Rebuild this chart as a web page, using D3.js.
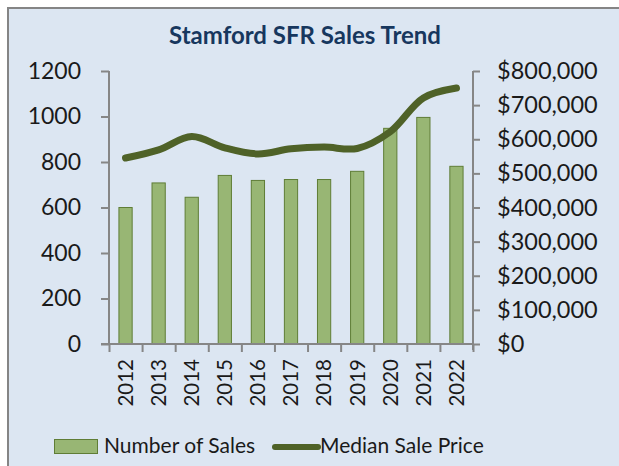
<!DOCTYPE html>
<html>
<head>
<meta charset="utf-8">
<script src="https://cdn.jsdelivr.net/npm/d3@7"></script>
<style>
  body { margin: 0; background: #fff; }
  text { font-family: Lato, "Open Sans", sans-serif; }
</style>
</head>
<body>
<script>
// chart data
var years = ["2012","2013","2014","2015","2016","2017","2018","2019","2020","2021","2022"];
var sales = [600, 708, 645, 741, 719, 723, 723, 759, 948, 996, 781];
var medianPrice = [545000, 569000, 608000, 575000, 557000, 572000, 577000, 573000, 622000, 721000, 750000];
var salesTicks = [0, 200, 400, 600, 800, 1000, 1200];
var priceTicks = [0, 100000, 200000, 300000, 400000, 500000, 600000, 700000, 800000];

var W = 619, H = 466;
var pLeft = 109, pRight = 473, pTop = 71, pBottom = 344;

var svg = d3.select("body").append("svg")
    .attr("width", W)
    .attr("height", H);

// background + frame (only top/left edges visible)
svg.append("rect").attr("x", 8).attr("y", 8).attr("width", W).attr("height", H)
    .attr("fill", "#dce6f2");
svg.append("path").attr("d", "M8,466V8H619")
    .attr("fill", "none").attr("stroke", "#858585").attr("stroke-width", 2);

// title
svg.append("text")
    .attr("x", 305).attr("y", 44)
    .attr("text-anchor", "middle")
    .attr("font-size", 24).attr("font-weight", "bold")
    .attr("fill", "#17375e")
    .text("Stamford SFR Sales Trend");

// scales
var x = d3.scaleBand().domain(years).range([pLeft, pRight])
    .paddingInner(0.6).paddingOuter(0.3);
var xEdge = d3.scaleLinear().domain([0, years.length]).range([pLeft, pRight]);
var yL = d3.scaleLinear().domain([0, 1200]).range([pBottom, pTop]);
var yR = d3.scaleLinear().domain([0, 800000]).range([pBottom, pTop]);

// bars
svg.append("g").selectAll("rect")
    .data(sales)
    .join("rect")
    .attr("x", function(d, i) { return x(years[i]); })
    .attr("y", function(d) { return yL(d); })
    .attr("width", x.bandwidth())
    .attr("height", function(d) { return pBottom - yL(d); })
    .attr("fill", "#98b674")
    .attr("stroke", "#5f7d36")
    .attr("stroke-width", 1);

var axisColor = "#868686";

// left axis
var gL = svg.append("g")
    .attr("transform", "translate(" + pLeft + ",0)")
    .call(d3.axisLeft(yL).tickValues(salesTicks).tickSize(8).tickSizeOuter(0).tickPadding(20)
        .tickFormat(d3.format("d")));
// right axis
var gR = svg.append("g")
    .attr("transform", "translate(" + pRight + ",0)")
    .call(d3.axisRight(yR).tickValues(priceTicks).tickSize(7).tickSizeOuter(0).tickPadding(17)
        .tickFormat(function(d) { return "$" + d3.format(",")(d); }));
// bottom axis: boundary ticks
var gB = svg.append("g")
    .attr("transform", "translate(0," + pBottom + ")")
    .call(d3.axisBottom(xEdge).tickValues(d3.range(years.length + 1)).tickSize(8).tickSizeOuter(0)
        .tickFormat(""));
// bottom labels
var gBL = svg.append("g")
    .attr("transform", "translate(0," + pBottom + ")")
    .call(d3.axisBottom(x).tickSize(0).tickPadding(0));
gBL.select(".domain").remove();
gBL.selectAll("text")
    .attr("transform", "rotate(-90)")
    .attr("text-anchor", "end")
    .attr("dy", "0.36em")
    .attr("x", -15)
    .attr("y", 0)
    .attr("font-size", 20.5);

[gL, gR, gB].forEach(function(g) {
    g.selectAll(".domain, line").attr("stroke", axisColor).attr("stroke-width", 2);
});
gL.selectAll("text").attr("font-size", 23).attr("fill", "#1a1a1a");
gR.selectAll("text").attr("font-size", 23.5).attr("fill", "#1a1a1a");
gBL.selectAll("text").attr("fill", "#1a1a1a");
gL.selectAll(".domain").attr("d", "M0," + pTop + "V" + pBottom);
gR.selectAll(".domain").attr("d", "M0," + pTop + "V" + (pBottom + 6));
gB.selectAll(".domain").attr("d", "M" + (pLeft - 8) + ",0H" + pRight);

// median price line
var line = d3.line()
    .x(function(d, i) { return x(years[i]) + x.bandwidth() / 2; })
    .y(function(d) { return yR(d); })
    .curve(d3.curveCatmullRom.alpha(0.5));
svg.append("path")
    .datum(medianPrice)
    .attr("d", line)
    .attr("fill", "none")
    .attr("stroke", "#4f6228")
    .attr("stroke-width", 7)
    .attr("stroke-linecap", "round");

// legend
var lg = svg.append("g");
lg.append("rect").attr("x", 54.5).attr("y", 439.5).attr("width", 43).attr("height", 14)
    .attr("fill", "#98b674").attr("stroke", "#5f7d36");
lg.append("text").attr("x", 104).attr("y", 453).attr("font-size", 21).attr("fill", "#1a1a1a")
    .text("Number of Sales");
lg.append("line").attr("x1", 275).attr("x2", 318).attr("y1", 447).attr("y2", 447)
    .attr("stroke", "#4f6228").attr("stroke-width", 6).attr("stroke-linecap", "round");
lg.append("text").attr("x", 320).attr("y", 453).attr("font-size", 21).attr("fill", "#1a1a1a")
    .text("Median Sale Price");
</script>
</body>
</html>
